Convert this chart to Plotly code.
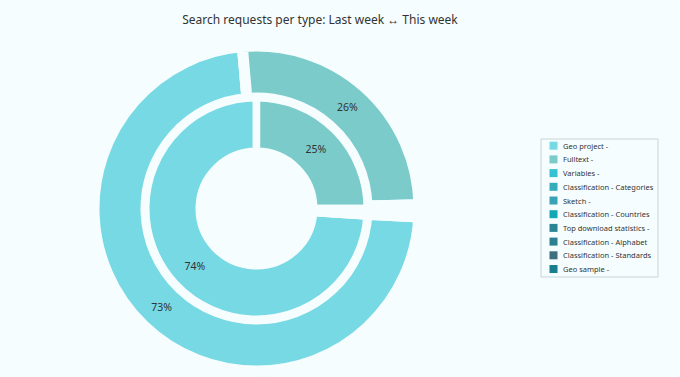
import plotly.graph_objects as go

# ---- data ----
labels = [
    "Geo project -",
    "Fulltext -",
    "Variables -",
    "Classification - Categories",
    "Sketch -",
    "Classification - Countries",
    "Top download statistics -",
    "Classification - Alphabet",
    "Classification - Standards",
    "Geo sample -",
]
last_week = [1452, 519, 6, 5, 4, 3, 2, 2, 1, 1]
this_week = [1380, 467, 5, 4, 3, 3, 2, 1, 1, 1]
colors = [
    "#76d9e4", "#7bcbcb", "#35c1d2", "#34adbb", "#3aa2b6",
    "#12a8b5", "#2c8592", "#2c8090", "#3d6f7c", "#177f8d",
]
title_text = "Search requests per type: Last week \u2194 This week"

BG = "#f5fdfe"
FONT = "Noto Sans"
TXT = "#333333"

W, H = 680, 377


def px_x(x):
    return x / W


def px_y(y):
    return 1 - y / H


def dom(cx, cy, r):
    return dict(
        x=[(cx - r) / W, (cx + r) / W],
        y=[(H - cy - r) / H, (H - cy + r) / H],
    )


def templ(vals):
    tot = sum(vals)
    return ["%{percent:.0%}" if v / tot > 0.05 else "" for v in vals]


def start_rot(vals, offset):
    tot = sum(vals)
    return offset + 360 * (1 - vals[0] / tot)


cx, cy = 256.5, 208.5
w_out, w_in = 11, 7.5

fig = go.Figure()
fig.add_trace(go.Pie(
    name="Last week",
    labels=labels, values=last_week,
    domain=dom(cx, cy, 157 + w_out / 2),
    hole=(116 - w_out / 2) / (157 + w_out / 2),
    sort=False, direction="clockwise",
    rotation=start_rot(last_week, -5),
    marker=dict(colors=colors, line=dict(color=BG, width=w_out)),
    texttemplate=templ(last_week), textposition="inside",
    insidetextorientation="horizontal",
    textfont=dict(color=TXT, size=10.5, family=FONT),
    showlegend=False,
))
fig.add_trace(go.Pie(
    name="This week",
    labels=labels, values=this_week,
    domain=dom(cx, cy, 107 + w_in / 2),
    hole=(61 - w_in / 2) / (107 + w_in / 2),
    sort=False, direction="clockwise",
    rotation=start_rot(this_week, 0),
    marker=dict(colors=colors, line=dict(color=BG, width=w_in)),
    texttemplate=templ(this_week), textposition="inside",
    insidetextorientation="horizontal",
    textfont=dict(color=TXT, size=10.5, family=FONT),
    showlegend=False,
))

# ---- legend box (drawn as layout decorations) ----
shapes = [dict(type="rect", xref="paper", yref="paper",
               x0=px_x(541), x1=px_x(658), y0=px_y(139), y1=px_y(277),
               line=dict(color="#c8d5d8", width=1), fillcolor=BG, layer="below")]
annotations = []
row0, step = 145.7, 13.7
for i, (lab, col) in enumerate(zip(labels, colors)):
    yc = row0 + i * step
    shapes.append(dict(type="rect", xref="paper", yref="paper",
                       x0=px_x(549.5), x1=px_x(557.5),
                       y0=px_y(yc + 4), y1=px_y(yc - 4),
                       line=dict(width=0), fillcolor=col))
    annotations.append(dict(text=lab, xref="paper", yref="paper",
                            x=px_x(561), y=px_y(yc), xanchor="left",
                            yanchor="middle", showarrow=False,
                            font=dict(size=7.5, family=FONT, color=TXT)))

fig.update_layout(
    width=W, height=H,
    margin=dict(l=0, r=0, t=0, b=0),
    paper_bgcolor=BG, plot_bgcolor=BG,
    font=dict(family=FONT, color=TXT),
    title=dict(text=title_text, x=320 / W, xanchor="center",
               y=px_y(20), yanchor="middle",
               font=dict(size=12, family=FONT, color=TXT)),
    showlegend=False,
    shapes=shapes,
    annotations=annotations,
)

fig.write_html(
    "out.html",
    config={"displayModeBar": False},
    post_script="document.body.style.margin='0';"
                "document.body.style.overflow='hidden';"
                "document.body.style.background='" + BG + "';",
)
